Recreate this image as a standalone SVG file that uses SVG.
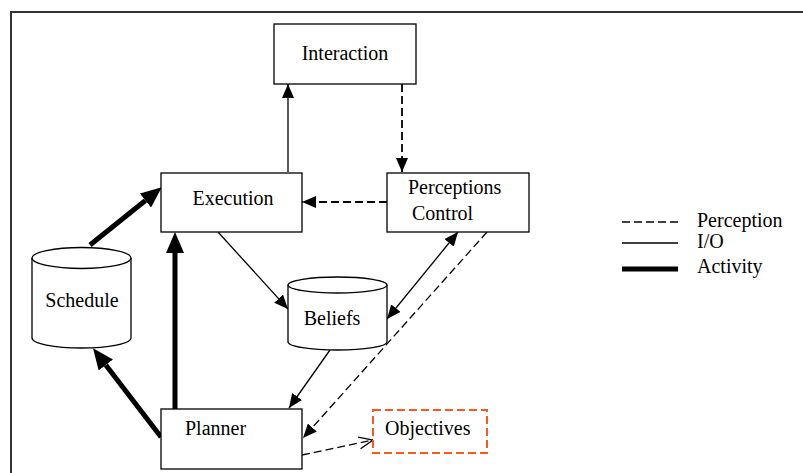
<svg xmlns="http://www.w3.org/2000/svg" width="803" height="473" viewBox="0 0 803 473">
<style>
text{font-family:"Liberation Serif","Times New Roman",serif;font-size:20px;fill:#000}
.box{fill:#fff;stroke:#000;stroke-width:1.3}
.thin{fill:none;stroke:#000;stroke-width:1.3}
.dash{fill:none;stroke:#000;stroke-width:1.3;stroke-dasharray:8 4}
.dashB{fill:none;stroke:#000;stroke-width:1.8;stroke-dasharray:8 4}
.thick{fill:none;stroke:#000;stroke-width:5}
</style>
<defs>
<marker id="ah" markerUnits="userSpaceOnUse" markerWidth="14" markerHeight="12" viewBox="0 0 14 12" refX="14" refY="6" orient="auto-start-reverse"><path d="M0,0 L14,6 L0,12 z" fill="#000"/></marker>
<marker id="ahT" markerUnits="userSpaceOnUse" markerWidth="21" markerHeight="18" viewBox="0 0 21 18" refX="0" refY="9" orient="auto"><path d="M0,0 L21,9 L0,18 z" fill="#000"/></marker>
<marker id="ahO" markerUnits="userSpaceOnUse" markerWidth="16" markerHeight="14" viewBox="0 0 16 14" refX="15" refY="7" orient="auto"><path d="M1,1 L15,7 L1,13" fill="none" stroke="#000" stroke-width="1.3"/></marker>
</defs>
<path d="M11,473 L11,12 L803,12" fill="none" stroke="#333" stroke-width="2"/>
<g id="connectors">
<path class="thin" d="M288,172 L288,84" marker-end="url(#ah)"/>
<path class="dashB" d="M402,84 L402,172" marker-end="url(#ah)"/>
<path class="dashB" d="M387,202 L302,202" marker-end="url(#ah)"/>
<path class="thin" d="M218,232 L288,309" marker-end="url(#ah)"/>
<path class="thin" d="M387,319 L458,232" marker-start="url(#ah)" marker-end="url(#ah)"/>
<path class="thin" d="M330,350 L289,408" marker-end="url(#ah)"/>
<path class="dash" d="M487,232 L303,438" marker-end="url(#ah)"/>
<path class="dash" d="M302,455 L373,440" marker-end="url(#ahO)"/>
<path class="thick" d="M90,245 L145.4,200.5" marker-end="url(#ahT)"/>
<path class="thick" d="M175,409 L175,253" marker-end="url(#ahT)"/>
<path class="thick" d="M161,437 L105.8,365" marker-end="url(#ahT)"/>
</g>
<g id="interaction"><rect class="box" x="274" y="24" width="142" height="60"/><text x="345" y="60" text-anchor="middle">Interaction</text></g>
<g id="execution"><rect class="box" x="161" y="173" width="141" height="59"/><text x="233" y="205" text-anchor="middle">Execution</text></g>
<g id="perceptions-control"><rect class="box" x="387" y="173" width="142" height="59"/><text x="408" y="194">Perceptions</text><text x="412" y="220">Control</text></g>
<g id="schedule"><path class="box" d="M32,258 L32,338 A49.5,10 0 0 0 131,338 L131,258"/><ellipse class="box" cx="81.5" cy="258" rx="49.5" ry="10.5"/><text x="82" y="307" text-anchor="middle">Schedule</text></g>
<g id="beliefs"><path class="box" d="M288,285 L288,342 A49.5,8 0 0 0 387,342 L387,285"/><ellipse class="box" cx="337.5" cy="285" rx="49.5" ry="8"/><text x="332" y="325" text-anchor="middle">Beliefs</text></g>
<g id="planner"><rect class="box" x="161" y="409" width="141" height="60"/><text x="185" y="435">Planner</text></g>
<g id="objectives"><rect x="373" y="410" width="114" height="43" fill="#fff" stroke="#ff5722" stroke-width="2" stroke-dasharray="8 4"/><text x="385" y="435">Objectives</text></g>
<g id="legend">
<path class="dash" d="M622,222 L678,222"/><text x="697" y="227">Perception</text>
<path class="thin" d="M622,243 L678,243"/><text x="697" y="248">I/O</text>
<path class="thick" d="M622,269 L678,269"/><text x="697" y="273">Activity</text>
</g>
</svg>
